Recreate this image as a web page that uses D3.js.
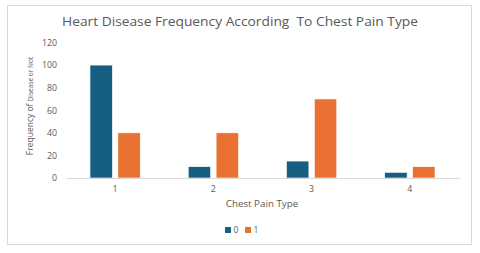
<!DOCTYPE html>
<html><head><meta charset="utf-8">
<script src="https://cdn.jsdelivr.net/npm/d3@7"></script>
<style>body{margin:0;background:#fff}svg{display:block}text{font-family:"Open Sans",sans-serif;fill:#595959}</style>
</head><body><svg id="c" width="480" height="253"></svg>
<script>
const categories = ["1","2","3","4"];
const seriesNames = ["0","1"];
const series0 = [100, 10, 15, 5];
const series1 = [40, 40, 70, 10];
const yTicks = [0,20,40,60,80,100,120];
const colors = ["#156082","#E97132"];

const svg = d3.select("#c");
svg.append("rect").attr("x",7.5).attr("y",5.5).attr("width",464).attr("height",239)
  .attr("fill","#fff").attr("stroke","#d9d9d9");

const m = {l:66, r:459, t:42.5, b:178};
const x = d3.scaleBand().domain(categories).range([m.l,m.r]);
const xi = d3.scaleBand().domain(seriesNames).range([0,x.bandwidth()]).paddingInner(0.197).paddingOuter(0.86);
const y = d3.scaleLinear().domain([0,120]).range([m.b,m.t]);

svg.append("text").attr("x",240).attr("y",26).attr("text-anchor","middle")
  .style("font-size","13.5px").attr("textLength",356).attr("lengthAdjust","spacingAndGlyphs")
  .text("Heart Disease Frequency According  To Chest Pain Type").attr("xml:space","preserve");

const yAxis = svg.append("g").attr("transform",`translate(${m.l},0)`)
  .call(d3.axisLeft(y).tickValues(yTicks).tickSize(0).tickPadding(9));
yAxis.select(".domain").remove();
yAxis.selectAll("text").style("font-size","8.8px").style("fill","#595959").style("font-family","Open Sans");

const data = categories.map((c,i)=>({c, v:[series0[i],series1[i]]}));
const g = svg.append("g");
data.forEach(d=>{
  seriesNames.forEach((s,j)=>{
    g.append("rect").attr("x",x(d.c)+xi(s)).attr("width",xi.bandwidth())
      .attr("y",y(d.v[j])).attr("height",y(0)-y(d.v[j]))
      .attr("fill",colors[j]).attr("stroke","#fff").attr("stroke-width",0.6);
  });
});

const xAxis = svg.append("g").attr("transform",`translate(0,${m.b})`)
  .call(d3.axisBottom(x).tickSize(0).tickPadding(8));
xAxis.select(".domain").attr("stroke","#d9d9d9");
xAxis.selectAll("text").style("font-size","8.8px").style("fill","#595959").style("font-family","Open Sans");

svg.append("text").attr("x",262).attr("y",207).attr("text-anchor","middle")
  .style("font-size","9.8px").text("Chest Pain Type");

const yl = svg.append("text").attr("transform","translate(33,106) rotate(-90)").attr("text-anchor","middle");
yl.append("tspan").style("font-size","8.5px").text("Frequency of ");
yl.append("tspan").style("font-size","6.5px").text("Disease or Not");

const leg = svg.append("g");
const legX = [225, 245];
seriesNames.forEach((s,j)=>{
  leg.append("rect").attr("x",legX[j]).attr("y",227).attr("width",6).attr("height",6).attr("fill",colors[j]);
  leg.append("text").attr("x",legX[j]+8.5).attr("y",233).style("font-size","8.5px").text(s);
});
</script></body></html>
